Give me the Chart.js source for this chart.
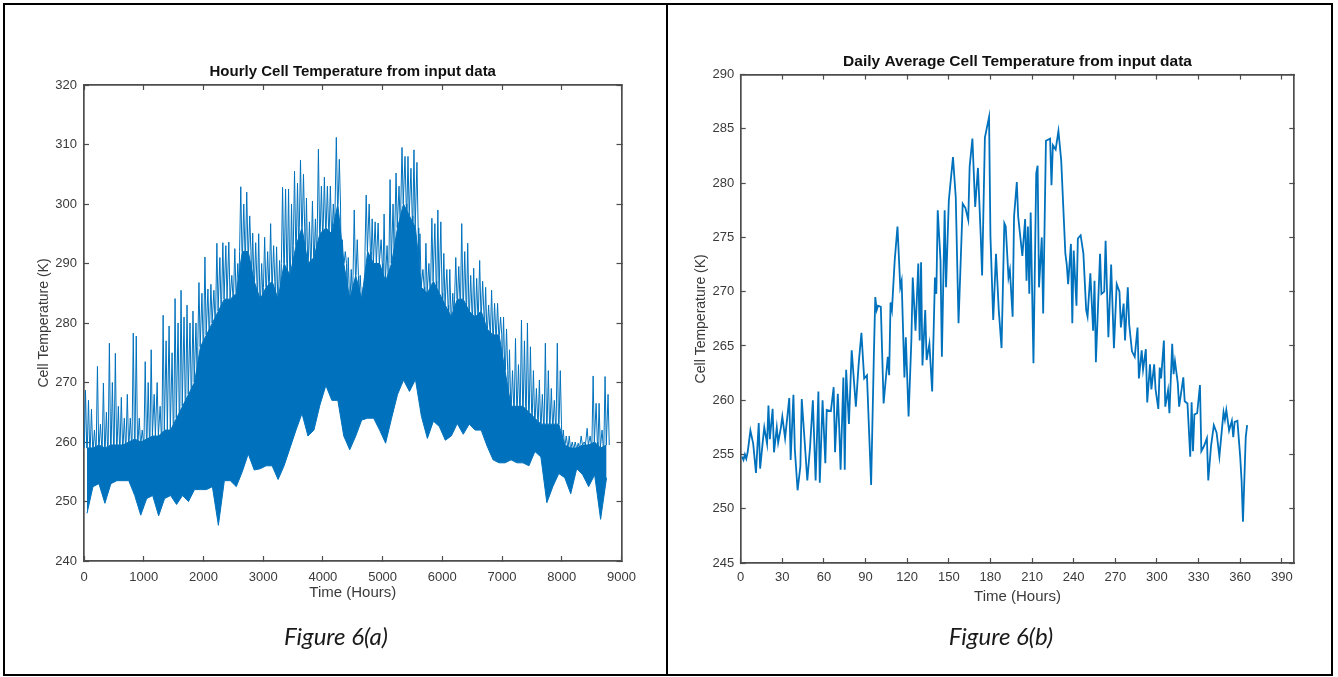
<!DOCTYPE html>
<html>
<head>
<meta charset="utf-8">
<script src="https://cdn.jsdelivr.net/npm/chart.js@4.4.1/dist/chart.umd.min.js"></script>
<style>
html,body{margin:0;padding:0;background:#fff;}
body{width:1338px;height:677px;position:relative;overflow:hidden;}
#c1{position:absolute;left:0;top:0;}
#c2{position:absolute;left:667px;top:0;}
.frame{position:absolute;left:3px;top:3px;width:1330px;height:673px;box-sizing:border-box;border:2px solid #000;}
.divider{position:absolute;left:666px;top:3px;width:2px;height:673px;background:#000;}
.cap{position:absolute;top:622px;font-family:Lato,'Open Sans',sans-serif;font-style:italic;font-weight:400;font-size:24px;line-height:28px;color:#1a1a1a;width:300px;text-align:center;}
</style>
</head>
<body>
<canvas id="c1" width="667" height="677"></canvas>
<canvas id="c2" width="671" height="677"></canvas>
<div class="frame"></div>
<div class="divider"></div>
<div class="cap" style="left:186px">Figure 6(a)</div>
<div class="cap" style="left:851px">Figure 6(b)</div>
<script>
// ---------- Figure 6(a): hourly data, summarised per 100-hour bin ----------
const hourStart = [0,100,200,300,400,500,600,700,800,900,1000,1100,1200,1300,1400,1500,1600,1700,1800,1900,
  2000,2100,2200,2300,2400,2500,2600,2700,2800,2900,3000,3100,3200,3300,3400,3500,3600,3700,3800,3900,
  4000,4100,4200,4300,4400,4500,4600,4700,4800,4900,5000,5100,5200,5300,5400,5500,5600,5700,5800,5900,
  6000,6100,6200,6300,6400,6500,6600,6700,6800,6900,7000,7100,7200,7300,7400,7500,7600,7700,7800,7900,
  8000,8100,8200,8300,8400,8500,8600,8700];
const hourlyLow = [248,252.5,253,249.7,253,253.5,253.5,253.5,251,247.7,
  250.5,251,247.6,250.5,251,249.5,251,250,252,252,
  252,252.5,246,253.5,253.5,252.5,255,258,255.3,255.5,
  256,256,253.7,256,259,262,264.8,261,262,266.2,
  269.5,267,267,261,258.7,261,263.7,264,264,262,
  259.8,264,268,270.4,268.5,270.5,264.3,260.6,263.5,262.6,
  260.3,261,263.1,261.3,263,262,262,259.3,257,256.5,
  256.5,257,256.5,256.5,256,258.4,257.5,249.8,252.5,254.7,
  254,251.3,255.5,254.5,252.5,254.5,247,254];
const hourlyCore = [259,259,259.5,259,259.5,259.5,259.5,260,260.5,260,
  260.5,261,261,262,262,264,266,268,270,276,
  278,280,282,284,284,285,292,292,287,284,
  286,287,284,290,288,293,296,290,291,295,
  296,295,300,290,284,288,284,292,290,290,
  287,290,296,300,298,296,286,285,287,285,
  283,281,284,284,282,281,282,279,278,278,
  272,266,266,266,265,264,263,263,263,263,
  259.5,259,259,259.5,259.5,260,259,259.5];
const hourlyPeak = [268.7,265.5,272.7,269.9,276.6,274.9,267.5,268,278.3,264,
  273.5,275.5,270,281.3,279.5,284.1,285.5,283,282,286.8,
  291.1,286.5,293.4,293.5,293.6,292.5,302.9,302,295.1,295,
  294.4,296.7,292.8,302.8,302.5,305.5,307.4,301,300.5,309.2,
  304.5,303,311.2,294,291,299,288,301.5,297.5,296.8,
  298.3,304.1,305.2,309.5,308,309.1,295,293.4,297.6,299,
  291.7,289,291,296.7,293.4,289.2,290.5,286,285.5,283.3,
  281,275.5,277.4,280.5,280,272,270.4,276.6,269,276.6,
  262,261,260,261,262.3,271.1,266.5,271];
const hourlySecondPeak = [267,262,263,265,270,266,264,264,277.8,262,
  270,268,266,277,275,280,281,280,280,285,
  285.7,285.5,291,293,288,290,300,298,293.5,290,
  292,293,290.5,302.5,300,303.5,305,297,297.5,303,
  303,300,307.5,292,289,294,286,300,297,294,
  293,300,303,308,306,307,289,290,296.7,297,
  289,285,289.5,292,288,287.5,287,283,283.3,281,
  279,272,273,277,276,269,268,272,267,272,
  261,260,259.8,260,261,266.5,262,268];
const hourlyXTicks = [0,1000,2000,3000,4000,5000,6000,7000,8000,9000];
const hourlyYTicks = [240,250,260,270,280,290,300,310,320];

// ---------- Figure 6(b): daily average ----------
const dailyDay = [1,2,3,4,5,7,9,11,13,14,16,17,19,20,21,23,24,26,27,29,30,32,35,36,38,39,41,43,44,46,48,50,52,54,56,57,59,61,62,65,67,68,70,71,72,74,75,76,78,80,83,85,87,89,91,94,96,97,98,99,101,103,106,107,108,109,111,113,115,116,118,119,121,123,124,126,128,129,130,131,133,134,136,138,140,141,142,144,145,147,148,150,153,155,157,160,162,164,165,167,169,171,173,174,176,179,180,182,184,186,188,190,191,193,194,196,197,199,200,202,203,205,206,207,208,209,211,213,214,215,217,218,220,223,224,225,227,229,231,234,235,236,238,239,240,242,243,245,247,249,250,252,254,255,256,259,260,262,263,265,267,269,271,273,274,276,277,279,280,282,284,286,287,289,290,292,293,295,296,298,299,301,302,303,305,306,308,309,311,312,313,315,316,319,320,322,324,325,326,327,329,331,332,334,336,337,339,341,343,345,348,349,350,352,354,355,356,358,360,361,362,364,365];
const dailyTemp = [254.8,254.5,255.0,254.6,255.2,257.2,256.0,253.3,257.9,253.7,256.3,257.5,256.0,259.5,256.4,259.2,255.2,257.5,256.1,257.5,258.5,256.5,260.2,254.5,260.5,255.5,251.7,253.9,260.1,256.4,252.6,255.7,260.0,252.6,260.8,252.4,260.0,254.2,259.1,259.0,261.2,255.2,260.6,257.5,253.6,262.1,253.6,262.8,257.8,264.6,259.4,263.3,266.2,262.0,262.3,252.2,264.3,269.5,268.3,268.7,268.6,259.7,264.0,262.3,269.0,268.3,272.9,276.0,270.4,271.0,262.1,265.8,258.5,265.5,271.3,266.4,272.6,265.5,272.7,263.2,268.3,263.7,265.2,260.8,271.3,269.8,277.5,272.9,264.0,277.5,270.4,278.4,282.4,278.7,267.1,278.1,277.7,276.6,281.5,284.1,277.8,281.4,275.1,271.5,284.2,286.1,275.1,267.4,273.5,268.3,264.8,276.3,276.0,271.3,272.0,267.7,276.9,280.1,276.9,274.5,273.3,276.7,271.0,276.0,269.8,277.3,263.4,280.9,281.6,270.4,275.0,268.0,283.9,284.1,279.8,283.5,283.1,284.8,282.1,273.5,272.5,270.7,274.4,267.1,273.8,268.7,274.9,275.2,273.5,268.3,267.7,271.7,266.4,271.0,263.5,273.5,269.8,270.0,274.7,265.8,272.5,264.8,270.7,270.0,266.7,268.9,265.5,270.4,267.0,264.5,264.0,266.7,262.0,264.6,262.8,264.7,259.8,263.3,261.0,263.3,261.0,259.2,263.0,262.0,265.5,259.4,260.9,258.8,265.2,262.4,263.6,261.6,259.4,262.1,259.9,259.7,254.8,259.8,255.3,258.7,258.8,261.4,255.3,255.8,256.5,252.6,255.8,257.7,257.0,254.8,258.9,258.2,259.1,257.2,258.1,256.6,258.0,258.1,254.8,252.6,248.8,256.6,257.7];
const dailyXTicks = [0,30,60,90,120,150,180,210,240,270,300,330,360,390];
const dailyYTicks = [245,250,255,260,265,270,275,280,285,290];

// ---------- styling ----------
const FONT = "'Liberation Sans', Arial, Helvetica, sans-serif";
const BLUE = '#0072BD';
const TEXT = '#3a3a3a';
const AXIS = '#4d4d4d';
Chart.defaults.font.family = FONT;

function axis(pos, min, max, tickList) {
  return {
    type: 'linear', position: pos, min: min, max: max,
    afterBuildTicks: s => { s.ticks = tickList.map(v => ({value: v})); },
    ticks: {autoSkip: false, maxRotation: 0, minRotation: 0, includeBounds: false,
            color: TEXT, font: {family: FONT, size: 13}, callback: v => String(v)},
    grid: {display: true, drawOnChartArea: false, drawTicks: true, tickLength: -5,
           color: AXIS, tickColor: AXIS, lineWidth: 1, tickWidth: 1.2},
    border: {display: true, color: AXIS, width: 1.7}
  };
}

function makeScales(p) {
  const x = axis('bottom', p.xMin, p.xMax, p.xTicks);
  x.ticks.padding = p.xPad;
  x.title = {display: true, text: 'Time (Hours)', color: TEXT, font: {family: FONT, size: 15},
             padding: {top: 0, bottom: p.xTitlePad}};
  x.afterFit = s => { s.height = 50; };
  const x2 = axis('top', p.xMin, p.xMax, p.xTicks);
  x2.ticks.display = false;
  x2.afterFit = s => { s.height = 0; };
  const y = axis('left', p.yMin, p.yMax, p.yTicks);
  y.ticks.padding = p.yPad;
  y.title = {display: true, text: 'Cell Temperature (K)', color: TEXT, font: {family: FONT, size: 14},
             padding: {top: p.yTitlePad, bottom: 0}};
  y.afterFit = s => { s.width = p.yWidth; };
  const y2 = axis('right', p.yMin, p.yMax, p.yTicks);
  y2.ticks.display = false;
  y2.afterFit = s => { s.width = 0; };
  return {x: x, x2: x2, y: y, y2: y2};
}

function makeOptions(p) {
  return {
    responsive: false, animation: false, events: [],
    layout: {padding: {left: 0, right: p.padRight, top: 0, bottom: p.padBottom}},
    scales: makeScales(p),
    plugins: {
      legend: {display: false},
      tooltip: {enabled: false},
      title: {display: true, text: p.title, color: '#111', fullSize: false,
              font: {family: FONT, size: p.titleSize, weight: 'bold'},
              padding: {top: p.titleTop, bottom: p.titleBottom}}
    }
  };
}

// ---------- chart (a) ----------
const lowPts = hourStart.map((h, i) => ({x: h + 50, y: hourlyLow[i]}));
const corePts = hourStart.map((h, i) => ({x: h + 50, y: hourlyCore[i]}));
const spikePts = [];
hourStart.forEach((h, i) => {
  spikePts.push(
    {x: h + 5, y: hourlyCore[i]}, {x: h + 25, y: hourlyPeak[i]}, {x: h + 45, y: hourlyCore[i]},
    {x: h + 55, y: hourlyCore[i]}, {x: h + 75, y: hourlySecondPeak[i]}, {x: h + 95, y: hourlyCore[i]});
});

new Chart(document.getElementById('c1'), {
  type: 'line',
  data: {datasets: [
    {data: lowPts, xAxisID: 'x', yAxisID: 'y', borderColor: BLUE, borderWidth: 1, pointRadius: 0, fill: false, tension: 0},
    {data: corePts, xAxisID: 'x', yAxisID: 'y', borderColor: BLUE, borderWidth: 1, pointRadius: 0, fill: '-1', backgroundColor: BLUE, tension: 0},
    {data: spikePts, xAxisID: 'x', yAxisID: 'y', borderColor: BLUE, borderWidth: 1, pointRadius: 0, fill: false, tension: 0}
  ]},
  options: makeOptions({
    title: 'Hourly Cell Temperature from input data', titleSize: 15,
    xMin: 0, xMax: 9000, xTicks: hourlyXTicks, yMin: 240, yMax: 320, yTicks: hourlyYTicks,
    xPad: 13.2, xTitlePad: 9, yPad: 12, yTitlePad: 35.6, yWidth: 84,
    padRight: 45.5, padBottom: 66, titleTop: 63, titleBottom: 4
  })
});

// ---------- chart (b) ----------
const dailyPts = dailyDay.map((d, i) => ({x: d, y: dailyTemp[i]}));
new Chart(document.getElementById('c2'), {
  type: 'line',
  data: {datasets: [
    {data: dailyPts, xAxisID: 'x', yAxisID: 'y', borderColor: BLUE, borderWidth: 1.8, pointRadius: 0, fill: false, tension: 0}
  ]},
  options: makeOptions({
    title: 'Daily Average Cell Temperature from input data', titleSize: 15.5,
    xMin: 0, xMax: 399, xTicks: dailyXTicks, yMin: 245, yMax: 290, yTicks: dailyYTicks,
    xPad: 11.7, xTitlePad: 7.3, yPad: 11.4, yTitlePad: 25.6, yWidth: 73.7,
    padRight: 43.7, padBottom: 64, titleTop: 52, titleBottom: 4
  })
});
</script>
</body>
</html>
